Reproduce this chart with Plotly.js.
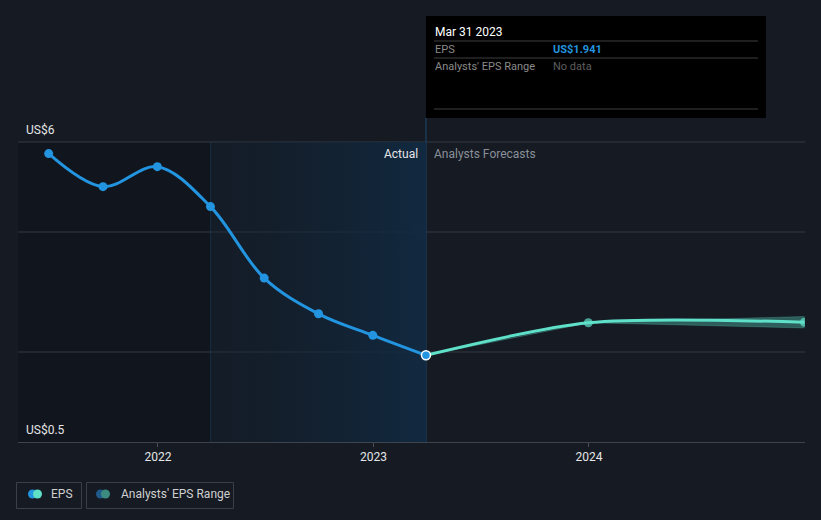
<!DOCTYPE html>
<html>
<head>
<meta charset="utf-8">
<script src="https://cdn.plot.ly/plotly-3.0.1.min.js"></script>
<style>
  html, body { margin: 0; padding: 0; background: #151a23; }
  #chart { width: 821px; height: 520px; }
</style>
</head>
<body>
<div id="chart"></div>
<script>
// ---- data ----
const actualDates = ['2021-06-30','2021-09-30','2021-12-31','2022-03-31','2022-06-30','2022-09-30','2022-12-31','2023-03-31'];
const actualEPS = [5.78, 5.15, 5.53, 4.77, 3.41, 2.73, 2.32, 1.941];
const forecastDates = ['2023-03-31','2023-12-31','2024-12-31'];
const forecastEPS = [1.941, 2.56, 2.57];
const rangeLow = [1.941, 2.56, 2.46];
const rangeHigh = [1.941, 2.56, 2.68];
const yTickLabels = ['US$6', 'US$0.5'];
const xTickVals = ['2022-01-01','2023-01-01','2024-01-01'];
const xTickText = ['2022','2023','2024'];
const tooltipDate = 'Mar 31 2023';
const tooltipEPS = 'US$1.941';
const tooltipRange = 'No data';

// ---- styles ----
const BG = '#151a23';
const BLUE = '#2394df';
const TEAL = '#5fe0c9';
const GRID = '#343a44';
const FONT = 'Roboto, "Open Sans", sans-serif';
const yMin = 0.29, yMax = 6.0;
const xStart = '2021-05-09', xEnd = '2025-01-01';

const lastActual = actualDates[actualDates.length - 1];
const shadeStart = actualDates[actualDates.length - 5];

const traces = [
  // actual shaded region (gradient)
  {
    x: [shadeStart, lastActual, lastActual, shadeStart, shadeStart],
    y: [yMin, yMin, yMax, yMax, yMin],
    mode: 'lines', fill: 'toself', line: {width: 0},
    fillgradient: {type: 'horizontal', colorscale: [[0, 'rgba(18,32,46,0.3)'], [1, 'rgba(17,42,66,0.95)']]},
    hoverinfo: 'skip', showlegend: false
  },
  // range band low
  {
    x: forecastDates, y: rangeLow, mode: 'lines',
    line: {width: 1, color: 'rgba(95,224,201,0.22)'},
    hoverinfo: 'skip', showlegend: false
  },
  // range band high
  {
    x: forecastDates, y: rangeHigh, mode: 'lines', fill: 'tonexty',
    fillcolor: 'rgba(95,224,201,0.35)',
    line: {width: 1, color: 'rgba(95,224,201,0.22)'},
    hoverinfo: 'skip', showlegend: false
  },
  // forecast line
  {
    x: forecastDates, y: forecastEPS, mode: 'lines+markers',
    line: {color: TEAL, width: 3, shape: 'spline', smoothing: 0.8},
    marker: {color: TEAL, size: [0, 9, 9], line: {width: 0}},
    hoverinfo: 'skip', showlegend: false
  },
  // actual line
  {
    x: actualDates, y: actualEPS, mode: 'lines+markers',
    line: {color: BLUE, width: 3, shape: 'spline', smoothing: 1},
    marker: {color: BLUE, size: 9,
      line: {color: actualDates.map((d, i) => i === actualDates.length - 1 ? '#ffffff' : BLUE), width: actualDates.map((d, i) => i === actualDates.length - 1 ? 1.5 : 0)}},
    hoverinfo: 'skip', showlegend: false
  }
];

const shapes = [
  // darker past region
  {type: 'rect', xref: 'x', yref: 'paper', x0: xStart, x1: shadeStart, y0: 0, y1: 1,
   fillcolor: 'rgba(8,10,14,0.28)', line: {width: 0}, layer: 'below'},
  // gridlines
  {type: 'line', xref: 'paper', yref: 'paper', x0: 0, x1: 1, y0: 1, y1: 1, line: {color: GRID, width: 1}, layer: 'below'},
  {type: 'line', xref: 'paper', yref: 'paper', x0: 0, x1: 1, y0: 0.7, y1: 0.7, line: {color: GRID, width: 1}, layer: 'below'},
  {type: 'line', xref: 'paper', yref: 'paper', x0: 0, x1: 1, y0: 0.3, y1: 0.3, line: {color: GRID, width: 1}, layer: 'below'},
  // vertical line at shade start
  {type: 'line', xref: 'x', yref: 'paper', x0: shadeStart, x1: shadeStart, y0: 0, y1: 1,
   line: {color: 'rgba(35,120,190,0.25)', width: 1}, layer: 'below'},
  // vertical line at last actual (up to tooltip)
  {type: 'line', xref: 'x', yref: 'paper', x0: lastActual, x1: lastActual,
   ysizemode: 'pixel', yanchor: 0, y0: 0, y1: 324,
   line: {color: '#1d4a70', width: 1}, layer: 'below'},
  // tooltip box
  {type: 'rect', xref: 'x', yref: 'paper', xsizemode: 'pixel', xanchor: lastActual, x0: 0, x1: 340,
   ysizemode: 'pixel', yanchor: 1, y0: 24, y1: 126, fillcolor: '#000000', line: {width: 0}},
  // tooltip separators
  {type: 'line', xref: 'x', yref: 'paper', xsizemode: 'pixel', xanchor: lastActual, x0: 8, x1: 332,
   ysizemode: 'pixel', yanchor: 1, y0: 101, y1: 101, line: {color: '#3e3e3e', width: 1}},
  {type: 'line', xref: 'x', yref: 'paper', xsizemode: 'pixel', xanchor: lastActual, x0: 8, x1: 332,
   ysizemode: 'pixel', yanchor: 1, y0: 84, y1: 84, line: {color: '#3e3e3e', width: 1}},
  {type: 'line', xref: 'x', yref: 'paper', xsizemode: 'pixel', xanchor: lastActual, x0: 8, x1: 332,
   ysizemode: 'pixel', yanchor: 1, y0: 33, y1: 33, line: {color: '#3e3e3e', width: 1}},
  // legend boxes
  {type: 'rect', xref: 'paper', yref: 'paper', xsizemode: 'pixel', xanchor: 0, x0: -1.5, x1: 63.5,
   ysizemode: 'pixel', yanchor: 0, y0: -66.5, y1: -40.5, line: {color: '#3a404a', width: 1}, fillcolor: 'rgba(0,0,0,0)'},
  {type: 'rect', xref: 'paper', yref: 'paper', xsizemode: 'pixel', xanchor: 0, x0: 68.5, x1: 215.5,
   ysizemode: 'pixel', yanchor: 0, y0: -66.5, y1: -40.5, line: {color: '#3a404a', width: 1}, fillcolor: 'rgba(0,0,0,0)'},
  // legend circles
  {type: 'circle', xref: 'paper', yref: 'paper', xsizemode: 'pixel', xanchor: 0, x0: 10, x1: 19,
   ysizemode: 'pixel', yanchor: 0, y0: -56.5, y1: -47.5, fillcolor: BLUE, line: {width: 0}},
  {type: 'circle', xref: 'paper', yref: 'paper', xsizemode: 'pixel', xanchor: 0, x0: 15, x1: 24,
   ysizemode: 'pixel', yanchor: 0, y0: -56.5, y1: -47.5, fillcolor: TEAL, line: {width: 0}},
  {type: 'circle', xref: 'paper', yref: 'paper', xsizemode: 'pixel', xanchor: 0, x0: 78, x1: 87,
   ysizemode: 'pixel', yanchor: 0, y0: -56.5, y1: -47.5, fillcolor: '#1f5a8a', line: {width: 0}},
  {type: 'circle', xref: 'paper', yref: 'paper', xsizemode: 'pixel', xanchor: 0, x0: 83, x1: 92,
   ysizemode: 'pixel', yanchor: 0, y0: -56.5, y1: -47.5, fillcolor: '#3d8a80', line: {width: 0}}
];

const ann = (o) => Object.assign({showarrow: false, font: {family: FONT, size: 12, color: '#e6e6e6'}}, o);
const annotations = [
  ann({text: yTickLabels[0], xref: 'paper', yref: 'paper', x: 0, y: 1, xanchor: 'left', yanchor: 'middle', xshift: 6, yshift: 12}),
  ann({text: yTickLabels[1], xref: 'paper', yref: 'paper', x: 0, y: 0, xanchor: 'left', yanchor: 'middle', xshift: 6, yshift: 12}),
  ann({text: 'Actual', xref: 'x', yref: 'paper', x: lastActual, y: 1, xanchor: 'right', yanchor: 'middle', xshift: -6, yshift: -12}),
  ann({text: 'Analysts Forecasts', xref: 'x', yref: 'paper', x: lastActual, y: 1, xanchor: 'left', yanchor: 'middle', xshift: 6, yshift: -12,
       font: {family: FONT, size: 12, color: '#8a9099'}}),
  // tooltip text
  ann({text: tooltipDate, xref: 'x', yref: 'paper', x: lastActual, y: 1, xanchor: 'left', yanchor: 'middle', xshift: 7, yshift: 110,
       font: {family: FONT, size: 12, color: '#ffffff'}}),
  ann({text: 'EPS', xref: 'x', yref: 'paper', x: lastActual, y: 1, xanchor: 'left', yanchor: 'middle', xshift: 7, yshift: 93,
       font: {family: FONT, size: 11, color: '#8a8a8a'}}),
  ann({text: '<b>' + tooltipEPS + '</b>', xref: 'x', yref: 'paper', x: lastActual, y: 1, xanchor: 'left', yanchor: 'middle', xshift: 125, yshift: 93,
       font: {family: FONT, size: 11, color: BLUE}}),
  ann({text: "Analysts' EPS Range", xref: 'x', yref: 'paper', x: lastActual, y: 1, xanchor: 'left', yanchor: 'middle', xshift: 7, yshift: 76,
       font: {family: FONT, size: 11, color: '#8a8a8a'}}),
  ann({text: tooltipRange, xref: 'x', yref: 'paper', x: lastActual, y: 1, xanchor: 'left', yanchor: 'middle', xshift: 125, yshift: 76,
       font: {family: FONT, size: 11, color: '#5e5e5e'}}),
  // legend text
  ann({text: 'EPS', xref: 'paper', yref: 'paper', x: 0, y: 0, xanchor: 'left', yanchor: 'middle', xshift: 31, yshift: -52,
       font: {family: FONT, size: 12, color: '#d0d0d0'}}),
  ann({text: "Analysts' EPS Range", xref: 'paper', yref: 'paper', x: 0, y: 0, xanchor: 'left', yanchor: 'middle', xshift: 101, yshift: -52,
       font: {family: FONT, size: 12, color: '#d0d0d0'}})
];

const layout = {
  width: 821, height: 520,
  margin: {l: 18, r: 16, t: 142, b: 78},
  paper_bgcolor: BG, plot_bgcolor: BG,
  font: {family: FONT, color: '#e6e6e6', size: 12},
  showlegend: false,
  hovermode: false,
  xaxis: {
    type: 'date', range: [xStart, xEnd],
    tickvals: xTickVals, ticktext: xTickText,
    ticks: 'outside', ticklen: 4, tickcolor: '#4a505a', tickwidth: 1,
    showgrid: false, zeroline: false,
    showline: true, linecolor: '#3e444e', linewidth: 1,
    tickfont: {family: FONT, size: 12, color: '#e6e6e6'},
    fixedrange: true
  },
  yaxis: {
    range: [yMin, yMax], showgrid: false, zeroline: false,
    showticklabels: false, showline: false, fixedrange: true
  },
  shapes: shapes,
  annotations: annotations
};

Plotly.newPlot('chart', traces, layout, {displayModeBar: false, staticPlot: true});
</script>
</body>
</html>
